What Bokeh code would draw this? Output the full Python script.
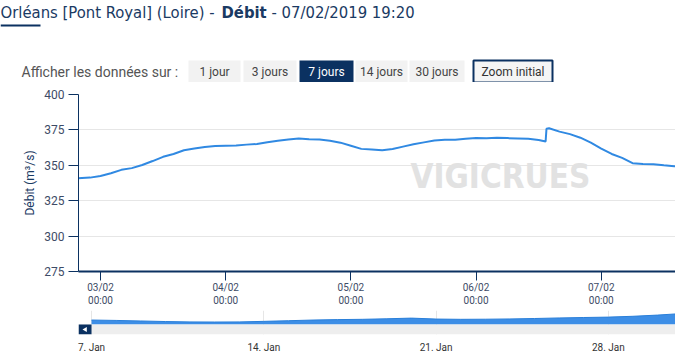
import pandas as pd
from bokeh.plotting import figure
from bokeh.layouts import column, row
from bokeh.models import Range1d, FixedTicker, Label
from bokeh.core.properties import value
from bokeh.embed import file_html
from bokeh.resources import INLINE

# ---------------- data ----------------
times = [
    "2019-02-02 19:40", "2019-02-02 22:00", "2019-02-03 00:00", "2019-02-03 02:00",
    "2019-02-03 04:00", "2019-02-03 06:00", "2019-02-03 08:00", "2019-02-03 10:00",
    "2019-02-03 12:00", "2019-02-03 14:00", "2019-02-03 16:00", "2019-02-03 18:00",
    "2019-02-03 20:00", "2019-02-03 22:00", "2019-02-04 00:00", "2019-02-04 02:00",
    "2019-02-04 04:00", "2019-02-04 06:00", "2019-02-04 08:00", "2019-02-04 10:00",
    "2019-02-04 12:00", "2019-02-04 14:00", "2019-02-04 16:00", "2019-02-04 18:00",
    "2019-02-04 20:00", "2019-02-04 22:00", "2019-02-05 00:00", "2019-02-05 02:00",
    "2019-02-05 04:00", "2019-02-05 06:00", "2019-02-05 08:00", "2019-02-05 10:00",
    "2019-02-05 12:00", "2019-02-05 14:00", "2019-02-05 16:00", "2019-02-05 18:00",
    "2019-02-05 20:00", "2019-02-05 22:00", "2019-02-06 00:00", "2019-02-06 02:00",
    "2019-02-06 04:00", "2019-02-06 06:00", "2019-02-06 08:00", "2019-02-06 10:00",
    "2019-02-06 12:00", "2019-02-06 13:20", "2019-02-06 13:30", "2019-02-06 14:00",
    "2019-02-06 16:00", "2019-02-06 18:00", "2019-02-06 20:00", "2019-02-06 22:00",
    "2019-02-07 00:00", "2019-02-07 02:00", "2019-02-07 04:00", "2019-02-07 06:00",
    "2019-02-07 08:00", "2019-02-07 10:00", "2019-02-07 12:00", "2019-02-07 14:00",
    "2019-02-07 16:00", "2019-02-07 19:20",
]
debit = [
    340.8, 341.3, 342.5, 344.4,
    346.8, 348.0, 350.2, 353.0,
    356.0, 358.0, 360.6, 361.8,
    363.0, 363.6, 363.8, 364.0,
    364.6, 365.0, 366.3, 367.3,
    368.2, 369.0, 368.4, 368.2,
    367.3, 366.0, 363.8, 361.6,
    361.2, 360.7, 361.5, 363.2,
    364.8, 366.2, 367.5, 368.0,
    368.0, 368.7, 369.3, 369.1,
    369.4, 369.2, 369.0, 368.7,
    367.8, 366.8, 375.8, 376.2,
    373.8, 372.0, 369.5, 366.0,
    361.8, 358.0, 355.2, 351.5,
    351.0, 350.7, 350.0, 349.4,
    349.3, 349.2,
]

nav_days = [
    "2019-01-07", "2019-01-08", "2019-01-09", "2019-01-10", "2019-01-11",
    "2019-01-12", "2019-01-13", "2019-01-14", "2019-01-15", "2019-01-16",
    "2019-01-17", "2019-01-18", "2019-01-19", "2019-01-20", "2019-01-21",
    "2019-01-22", "2019-01-23", "2019-01-24", "2019-01-25", "2019-01-26",
    "2019-01-27", "2019-01-28", "2019-01-29", "2019-01-30", "2019-01-31",
]
nav_debit = [
    282, 275, 265, 255, 248,
    246, 248, 258, 270, 282,
    290, 295, 305, 317, 300,
    295, 297, 302, 310, 320,
    328, 335, 350, 372, 400,
]

y_ticks = [275, 300, 325, 350, 375, 400]
x_tick_days = ["2019-02-03", "2019-02-04", "2019-02-05", "2019-02-06", "2019-02-07"]
x_tick_labels = ["03/02\n00:00", "04/02\n00:00", "05/02\n00:00", "06/02\n00:00", "07/02\n00:00"]
nav_tick_days = ["2019-01-07", "2019-01-14", "2019-01-21", "2019-01-28"]
nav_tick_labels = ["7. Jan", "14. Jan", "21. Jan", "28. Jan"]

buttons = ["1 jour", "3 jours", "7 jours", "14 jours", "30 jours"]
title_parts = ["Orléans [Pont Royal] (Loire) -", "Débit", "- 07/02/2019 19:20"]

# ---------------- styles ----------------
FONT = "Roboto"
TFONT = "DejaVu Sans Condensed"
NAVY = "#0b3161"
LINE_BLUE = "#3089e2"
OFF = 78

def ms(s):
    return pd.Timestamp(s).value / 1e6

# ---------------- header (own frame over the whole width: data x == pixel x) ----------------
hf = figure(width=675, height=82, x_range=Range1d(0, 675), y_range=Range1d(82, 0),
            output_backend="svg", toolbar_location=None, min_border=0)
hf.axis.visible = False
hf.grid.visible = False
hf.outline_line_color = None

tx = [0, 221, 271]
hf.text(x=tx, y=[12, 12, 12], text=title_parts, text_font=value(TFONT), text_font_size="16.5px",
        text_font_style=["normal", "bold", "normal"], text_color="#1a3a63",
        text_baseline="middle", text_align="left")
hf.segment(x0=[0], y0=[25], x1=[40], y1=[25], line_width=2, line_color=NAVY)

hf.text(x=[21], y=[71], text=["Afficher les données sur :"], text_font=value(FONT),
        text_font_size="14px", text_color="#555555", text_baseline="middle", text_align="left")

b_left = [188, 243, 299, 355, 409]
b_right = [240, 296, 353, 407, 464]
b_fill = ["#f2f2f2", "#f2f2f2", NAVY, "#f2f2f2", "#f2f2f2"]
b_text = ["#444444", "#444444", "#ffffff", "#444444", "#444444"]
hf.quad(left=b_left, right=b_right, top=[60] * 5, bottom=[82] * 5, fill_color=b_fill, line_color=None)
hf.text(x=[(a + b) / 2 for a, b in zip(b_left, b_right)], y=[71] * 5, text=buttons,
        text_font=value(FONT), text_font_size="12px", text_color=b_text,
        text_baseline="middle", text_align="center")
hf.quad(left=[473], right=[552], top=[60], bottom=[82], fill_color="#f5f5f5",
        line_color=NAVY, line_width=2)
hf.text(x=[512.5], y=[71], text=["Zoom initial"], text_font=value(FONT), text_font_size="12px",
        text_color="#333333", text_baseline="middle", text_align="center")

# ---------------- main chart ----------------
t = pd.to_datetime(times)
p = figure(width=675, height=228, x_axis_type="datetime",
           x_range=Range1d(pd.Timestamp("2019-02-02 19:47"), pd.Timestamp("2019-02-07 14:14")),
           y_range=Range1d(275, 400), output_backend="svg", toolbar_location=None,
           min_border_left=OFF, min_border_right=0, min_border_top=12, min_border_bottom=39)
p.outline_line_color = None
p.xgrid.visible = False
p.ygrid.grid_line_color = "#e6e6e6"

p.line(t, debit, line_width=2, line_color=LINE_BLUE)

p.add_layout(Label(x=pd.Timestamp("2019-02-06 04:40"), y=342, text="VIGICRUES",
                   text_font=TFONT, text_font_size="33px",
                   text_font_style="bold", text_color="#e2e2e2", text_align="center",
                   text_baseline="middle", level="underlay"))

p.yaxis.ticker = FixedTicker(ticks=y_ticks)
p.yaxis.minor_tick_line_color = None
p.yaxis.major_tick_out = 10
p.yaxis.major_tick_in = 0
p.yaxis.axis_line_color = NAVY
p.yaxis.major_tick_line_color = NAVY
p.yaxis.major_label_text_font = FONT
p.yaxis.major_label_text_font_size = "12px"
p.yaxis.major_label_text_color = "#3d4b66"
p.yaxis.major_label_standoff = 4
p.yaxis.axis_label = "Débit (m³/s)"
p.yaxis.axis_label_text_font = FONT
p.yaxis.axis_label_text_font_style = "normal"
p.yaxis.axis_label_text_font_size = "12px"
p.yaxis.axis_label_text_color = "#1a3a63"
p.yaxis.axis_label_standoff = 4

x_ticks = [ms(d) for d in x_tick_days]
p.xaxis.ticker = FixedTicker(ticks=x_ticks)
p.xaxis.major_label_overrides = dict(zip(x_ticks, x_tick_labels))
p.xaxis.minor_tick_line_color = None
p.xaxis.major_tick_out = 9
p.xaxis.major_tick_in = 0
p.xaxis.axis_line_color = NAVY
p.xaxis.axis_line_width = 2
p.xaxis.major_tick_line_color = NAVY
p.xaxis.major_label_text_font = FONT
p.xaxis.major_label_text_font_size = "10px"
p.xaxis.major_label_text_color = "#3d4b66"
p.xaxis.major_label_standoff = 1

# ---------------- navigator ----------------
nd = pd.to_datetime(nav_days)
nav_start = pd.Timestamp("2019-01-06 11:18")
nav_end = pd.Timestamp("2019-01-30 17:30")
nv = figure(width=675, height=45, x_axis_type="datetime", x_range=Range1d(nav_start, nav_end),
            y_range=Range1d(20, 455), output_backend="svg", toolbar_location=None,
            min_border_left=OFF, min_border_right=0, min_border_top=0, min_border_bottom=16)
nv.outline_line_color = None
nv.yaxis.visible = False
nv.ygrid.visible = False
nv.xgrid.grid_line_color = "#e6e6e6"

nv.varea(x=nd, y1=200, y2=nav_debit, fill_color="#3d8ee6")
nv.line(nd, nav_debit, line_color="#2a7fd9", line_width=1)
nv.quad(left=[nav_start], right=[nav_end], bottom=[20], top=[200], fill_color="#eeeeee", line_color=None)
nv.quad(left=[nav_start], right=[pd.Timestamp("2019-01-07")], bottom=[20], top=[200],
        fill_color=NAVY, line_color=None)
nv.scatter(x=[pd.Timestamp("2019-01-06 18:00")], y=[110], marker="triangle", angle=1.5708,
           size=5, fill_color="white", line_color=None)

nav_ticks = [ms(d) for d in nav_tick_days]
nv.xaxis.ticker = FixedTicker(ticks=nav_ticks)
nv.xaxis.major_label_overrides = dict(zip(nav_ticks, nav_tick_labels))
nv.xaxis.axis_line_color = None
nv.xaxis.major_tick_line_color = None
nv.xaxis.minor_tick_line_color = None
nv.xaxis.major_label_text_font = FONT
nv.xaxis.major_label_text_font_size = "10px"
nv.xaxis.major_label_text_color = "#333333"
nv.xaxis.major_label_standoff = 1

layout = column(row(hf), column(p, nv, spacing=0), spacing=0)
open("out.html", "w").write(file_html(layout, INLINE))
